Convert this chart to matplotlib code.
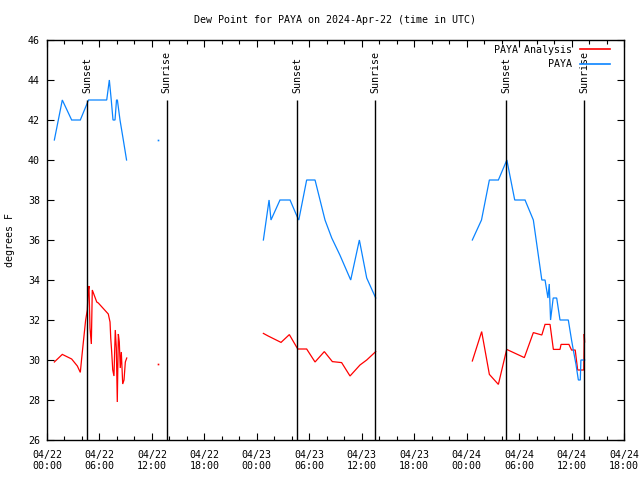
import numpy as np
import matplotlib
matplotlib.use("Agg")
import matplotlib.pyplot as plt

nan = np.nan

# Hours since 2024-04-22 00:00 UTC
paya_hours = [0.84, 1.75, 2.82, 3.81, 4.75, 6.83, 7.13, 7.35, 7.55, 7.78, 7.95, 8.05, 8.35, 8.73, 9.10,
              nan, 12.73, nan,
              24.75, 25.40, 25.62, 26.65, 27.80, 28.68, 28.80, 29.70, 30.66, 31.80, 32.57, 33.50, 34.74,
              35.73, 36.57, 37.60,
              nan,
              48.65, 49.70, 50.60, 51.63, 52.60, 53.50, 54.68, 55.63, 56.60, 56.97, 57.30, 57.45, 57.60,
              57.90, 58.30, 58.68, 59.63, 60.00, 60.20, 60.50, 60.78, 61.00, 61.07, 61.50]
paya_vals = [41.0, 43.0, 42.0, 42.0, 43.0, 43.0, 44.0, 43.0, 42.0, 42.0, 43.0, 43.0, 42.0, 41.0, 40.0,
             nan, 41.0, nan,
             36.0, 38.0, 37.0, 38.0, 38.0, 37.1, 37.0, 39.0, 39.0, 37.0, 36.1, 35.25, 34.0,
             36.0, 34.1, 33.1,
             nan,
             36.0, 37.0, 39.0, 39.0, 40.0, 38.0, 38.0, 37.0, 34.0, 34.0, 33.1, 33.8, 32.0,
             33.1, 33.1, 32.0, 32.0, 31.0, 30.5, 29.8, 29.0, 29.0, 30.0, 30.0]

anal_hours = [0.84, 1.75, 2.82, 3.47, 3.81, 3.97, 4.42, 4.61, 4.70, 4.80, 4.92, 5.07, 5.18, 5.69, 5.87,
              7.01, 7.21, 7.29, 7.40, 7.52, 7.66, 7.81, 7.93, 8.04, 8.16, 8.27, 8.38, 8.50, 8.66,
              8.81, 8.96, 9.12,
              nan, 12.73, nan,
              24.75, 25.30, 26.08, 26.77, 27.72, 28.68, 29.70, 30.66, 31.72, 32.64, 33.70, 34.66,
              35.80, 36.57, 37.60,
              nan,
              48.65, 49.72, 50.60, 51.63, 52.58, 54.60, 55.63, 56.60, 56.97, 57.54, 57.92, 58.68,
              58.80, 59.70, 60.00, 60.42, 60.70, 61.07, 61.40, 61.45, 61.50]
anal_vals = [29.9, 30.28, 30.05, 29.7, 29.38, 30.1, 32.0, 32.5, 33.4, 33.7, 31.6, 30.8, 33.5, 32.9, 32.85,
             32.3, 31.9, 31.1, 30.4, 29.5, 29.2, 31.5, 30.6, 27.9, 31.3, 30.9, 29.6, 30.4, 28.8,
             29.0, 29.9, 30.1,
             nan, 29.8, nan,
             31.33, 31.2, 31.03, 30.88, 31.27, 30.55, 30.55, 29.9, 30.42, 29.92, 29.87, 29.2,
             29.75, 30.0, 30.42,
             nan,
             29.95, 31.42, 29.28, 28.78, 30.53, 30.12, 31.37, 31.25, 31.78, 31.78, 30.53, 30.53,
             30.78, 30.78, 30.5, 30.5, 29.5, 29.5, 29.5, 31.3, 30.9]

sun_hours = [4.61, 13.69, 28.63, 37.56, 52.54, 61.46]
sun_labels = ["Sunset", "Sunrise", "Sunset", "Sunrise", "Sunset", "Sunrise"]

title = "Dew Point for PAYA on 2024-Apr-22 (time in UTC)"
ylabel = "degrees F"
series_labels = ["PAYA Analysis", "PAYA"]
red = "#ff0000"
blue = "#0a84ff"

plt.rcParams['font.family'] = ['DejaVu Sans Mono']
FS = 7.2

fig = plt.figure(figsize=(6.4, 4.8), dpi=100)
ax = fig.add_axes([47/640, 40/480, 577/640, 400/480])


def plot_series(h, v, color, label):
    h = np.asarray(h, float)
    v = np.asarray(v, float)
    line, = ax.plot(h, v, color=color, lw=0.9, label=label, solid_joinstyle='miter')
    fin = np.isfinite(v)
    prev = np.r_[False, fin[:-1]]
    nxt = np.r_[fin[1:], False]
    iso = fin & ~prev & ~nxt
    ax.plot(h[iso], v[iso], linestyle='none', marker='s', markersize=1.2,
            color=color, markeredgewidth=0)
    return line


l1 = plot_series(anal_hours, anal_vals, red, series_labels[0])
l2 = plot_series(paya_hours, paya_vals, blue, series_labels[1])

ax.vlines(sun_hours, 26, 43, color='black', lw=1.0)
for x, lab in zip(sun_hours, sun_labels):
    ax.text(x, 43.35, lab, rotation=90, ha='center', va='bottom', fontsize=FS)

ax.set_xlim(0, 66)
ax.set_ylim(26, 46)
xt = np.arange(0, 67, 6)
ax.set_xticks(xt)
ax.set_xticklabels([f"04/{22 + int(t // 24):02d}\n{int(t % 24):02d}:00" for t in xt], fontsize=FS)
ax.set_xticks(np.arange(0, 67, 2), minor=True)
yt = np.arange(26, 47, 2)
ax.set_yticks(yt)
ax.set_yticklabels([str(t) for t in yt], fontsize=FS)
ax.tick_params(which='both', direction='in', top=True, right=True, width=0.8)
ax.tick_params(which='major', length=5, pad=5)
ax.tick_params(which='minor', length=3)
ax.tick_params(axis='x', which='major', pad=7)
for s in ax.spines.values():
    s.set_linewidth(1.0)

ax.set_ylabel(ylabel, fontsize=FS)
ax.yaxis.set_label_coords(-32/577, 0.5)
ax.set_title(title, fontsize=FS, pad=12)

leg = ax.legend(handles=[l1, l2], loc='upper right', bbox_to_anchor=(0.9815, 0.995),
                markerfirst=False, frameon=False, fontsize=FS, borderaxespad=0,
                borderpad=0.3, labelspacing=0.45, handlelength=3.0, handletextpad=0.8)
for lh in leg.get_lines():
    lh.set_linewidth(1.2)

fig.savefig("out.png", dpi=100)
